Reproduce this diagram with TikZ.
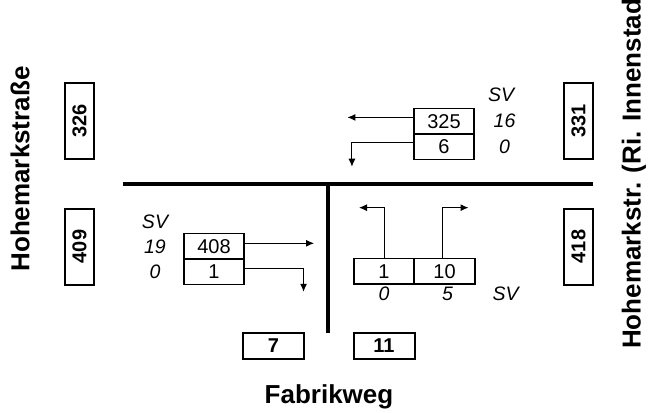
\documentclass[tikz,border=0pt]{standalone}
\usepackage{fontspec}
\setmainfont{Liberation Sans}
\usetikzlibrary{arrows.meta}

\begin{document}
\begin{tikzpicture}[x=1pt, y=-1pt, >={Latex[length=8pt,width=7pt]},
		road/.style={line width=4.5pt},
		flow/.style={->, line width=1pt},
		lane/.style={draw, line width=1.6pt, inner sep=0pt, minimum width=60.5pt, minimum height=25.5pt, font=\fontsize{20}{23}\selectfont},
		sidecount/.style={draw, line width=2pt, inner sep=0pt, rotate=90, minimum width=76pt, minimum height=29pt, font=\fontsize{20}{24}\selectfont\bfseries},
		basecount/.style={draw, line width=2pt, inner sep=0pt, minimum width=61pt, minimum height=26pt, font=\fontsize{20}{24}\selectfont\bfseries},
		sv/.style={inner sep=0pt, font=\fontsize{19.5}{22}\selectfont\itshape},
		street/.style={inner sep=0pt, font=\fontsize{26}{30}\selectfont\bfseries}]
	\clip (0,0) rectangle (650,412);
	% Strassen
	\draw[road] (123,184) -- (593,184);
	\draw[road] (328,184) -- (328,333);
	\node[street, rotate=90] (west) at (20,169) {Hohemarkstraße};
	\node[street, rotate=90, anchor=west] (east) at (634,349) {Hohemarkstr. (Ri. Innenstadt)};
	\node[street] (south) at (329,397) {Fabrikweg};
	% Querschnittszaehlungen
	\node[sidecount] (q326) at (79.5,121) {326};
	\node[sidecount] (q409) at (79.5,246.5) {409};
	\node[sidecount] (q331) at (578.5,121) {331};
	\node[sidecount] (q418) at (578.5,246.5) {418};
	\node[basecount] (q7) at (273.5,346) {7};
	\node[basecount] (q11) at (384,346) {11};
	% Zufahrt West
	\node[lane] (w1) at (214,246.3) {408};
	\node[lane] (w2) at (214,271.8) {1};
	\node[sv] (wsv) at (155,222) {SV};
	\node[sv] (ws1) at (155,246.3) {19};
	\node[sv] (ws2) at (155,271.8) {0};
	\draw[flow] ([yshift=3pt]w1.east) -- ++(69,0);
	\draw[flow] ([yshift=3.5pt]w2.east) -- ++(58.5,0) -- ++(0,23.5);
	% Zufahrt Nord
	\node[lane] (n1) at (444,121.2) {325};
	\node[lane] (n2) at (444,146.7) {6};
	\node[sv] (nsv) at (501,95) {SV};
	\node[sv] (ns1) at (504.5,121.2) {16};
	\node[sv] (ns2) at (504.5,146.7) {0};
	\draw[flow] ([yshift=3.8pt]n1.west) -- ++(-65.5,0);
	\draw[flow] ([yshift=4.5pt]n2.west) -- ++(-61,0) -- ++(0,24.5);
	% Zufahrt Sued
	\node[lane] (s1) at (384,271.2) {1};
	\node[lane] (s2) at (444.5,271.2) {10};
	\node[sv] (ss1) at (384,294) {0};
	\node[sv] (ss2) at (447.5,294) {5};
	\node[sv] (ssv) at (505.5,294) {SV};
	\draw[flow] (s1.north) -- ++(0,-50) -- ++(-25,0);
	\draw[flow] ([xshift=-2pt]s2.north) -- ++(0,-50) -- ++(26,0);
\end{tikzpicture}
\end{document}
